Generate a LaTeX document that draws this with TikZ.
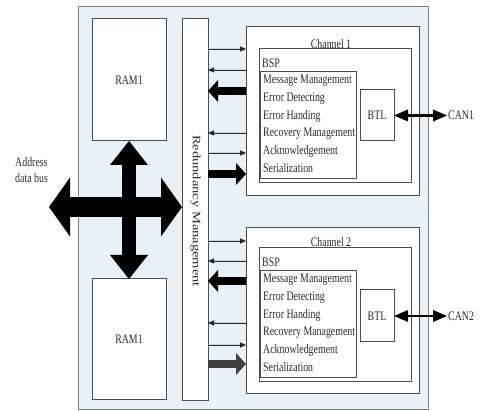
\documentclass[tikz,border=0pt]{standalone}
\usepackage{fontspec}
\setmainfont{Liberation Serif}[FakeStretch=0.76]
\newfontfamily\widefont{Liberation Serif}
\usetikzlibrary{arrows.meta}
\definecolor{bgblue}{HTML}{E8F0F8}
\definecolor{grey50}{HTML}{808080}
\definecolor{grey30}{HTML}{4D4D4D}
\definecolor{grey25}{HTML}{404040}
\definecolor{textgrey}{HTML}{2B2B2B}

\tikzset{
  txt/.style={font=\fontsize{13}{16}\selectfont, text=textgrey, inner sep=1pt},
  box/.style={txt, draw=grey30, fill=white, line width=1pt, inner sep=0pt,
    outer sep=0pt, anchor=north west},
  item/.style={txt, anchor=west, inner sep=0pt},
  thinarrow/.style={-{Triangle[width=5pt,length=6pt]}, line width=0.8pt, draw=black!85, fill=black!85},
  thickarrow/.style={-{Triangle[width=22pt,length=10pt,line width=0pt]}, line width=8pt},
  canarrow/.style={{Triangle[width=12pt,length=14pt,line width=0pt]}-{Triangle[width=12pt,length=14pt,line width=0pt]},
    line width=2.5pt},
}

\begin{document}
\begin{tikzpicture}[x=1pt, y=-1pt]

  \useasboundingbox (0,0) rectangle (480,411);

  % OUTER BOX
  \filldraw[fill=bgblue, draw=grey50, line width=1pt] (78,7) rectangle (428,410);

  % MEMORY AND REDUNDANCY
  \node[box, minimum width=74pt, minimum height=122pt] (ramtop) at (92,19) {RAM1};
  \node[box, minimum width=74pt, minimum height=121pt] (rambot) at (92,279) {RAM1};
  \node[box, minimum width=26pt, minimum height=382pt] (rm) at (182,19) {};
  \node[txt, rotate=-90, font=\widefont\fontsize{14.5}{16}\selectfont] (rmtext) at (195.5,211)
    {\scalebox{1}[0.78]{Redundancy Management}};

  % BUS ARROWS
  \coordinate (bus) at (49,207);
  \draw[line width=14pt, {Triangle[width=38pt,length=24pt,line width=0pt]}-{Triangle[width=38pt,length=24pt,line width=0pt]}]
    (ramtop.south) -- (rambot.north);
  \draw[line width=20pt, {Triangle[width=59pt,length=21pt,line width=0pt]}-{Triangle[width=59pt,length=21pt,line width=0pt]}]
    (bus) -- (rm.west |- bus);
  \node[txt, align=left, anchor=west] (bustext) at (14,170) {Address\\data bus};

  %%%%

  % CHANNEL 1
  \node[box, minimum width=173pt, minimum height=169pt] (ch1) at (246,27) {};
  \node[txt] (ch1text) at (331,44) {Channel 1};
  \node[box, minimum width=152pt, minimum height=134pt] (bsp1) at (259,49) {};
  \node[txt, anchor=west] (bsp1text) at (261,63) {BSP};
  \node[box, minimum width=96pt, minimum height=107pt] (list1) at (260,72) {};
  \foreach \name [count=\i] in {Message Management, Error Detecting, Error Handing,
    Recovery Management, Acknowledgement, Serialization}{
    \node[item] (m1\i) at (263,63.5+17.5*\i) {\name};
  }
  \node[box, minimum width=34pt, minimum height=51pt] (btl1) at (360,90) {BTL};
  \node[txt, anchor=west] (can1) at (447,115.5) {CAN1};
  \draw[canarrow] (btl1.east) -- (can1.west);

  % ARROWS 1
  \draw[thinarrow] (rm.east |- 0,49) -- (ch1.west |- 0,49);
  \draw[thinarrow] (ch1.west |- 0,70) -- (rm.east |- 0,70);
  \draw[thickarrow] (ch1.west |- 0,91) -- (rm.east |- 0,91);
  \draw[thinarrow] (ch1.west |- 0,133) -- (rm.east |- 0,133);
  \draw[thinarrow] (rm.east |- 0,153) -- (ch1.west |- 0,153);
  \draw[thickarrow] (rm.east |- 0,174) -- (ch1.west |- 0,174);

  %%%%

  % CHANNEL 2
  \node[box, minimum width=173pt, minimum height=166pt] (ch2) at (246,228) {};
  \node[txt] (ch2text) at (331,242) {Channel 2};
  \node[box, minimum width=152pt, minimum height=134pt] (bsp2) at (259,248) {};
  \node[txt, anchor=west] (bsp2text) at (261,262) {BSP};
  \node[box, minimum width=96pt, minimum height=107pt] (list2) at (260,271) {};
  \foreach \name [count=\i] in {Message Management, Error Detecting, Error Handing,
    Recovery Management, Acknowledgement, Serialization}{
    \node[item] (m2\i) at (263,262.5+17.5*\i) {\name};
  }
  \node[box, minimum width=34pt, minimum height=52pt] (btl2) at (360,290) {BTL};
  \node[txt, anchor=west] (can2) at (447,316) {CAN2};
  \draw[canarrow] (btl2.east) -- (can2.west);

  % ARROWS 2
  \draw[thinarrow] (rm.east |- 0,241) -- (ch2.west |- 0,241);
  \draw[thinarrow] (ch2.west |- 0,261) -- (rm.east |- 0,261);
  \draw[thickarrow] (ch2.west |- 0,281) -- (rm.east |- 0,281);
  \draw[thinarrow] (ch2.west |- 0,323) -- (rm.east |- 0,323);
  \draw[thinarrow] (rm.east |- 0,345) -- (ch2.west |- 0,345);
  \draw[thickarrow, grey25] (rm.east |- 0,364) -- (ch2.west |- 0,364);

\end{tikzpicture}
\end{document}
